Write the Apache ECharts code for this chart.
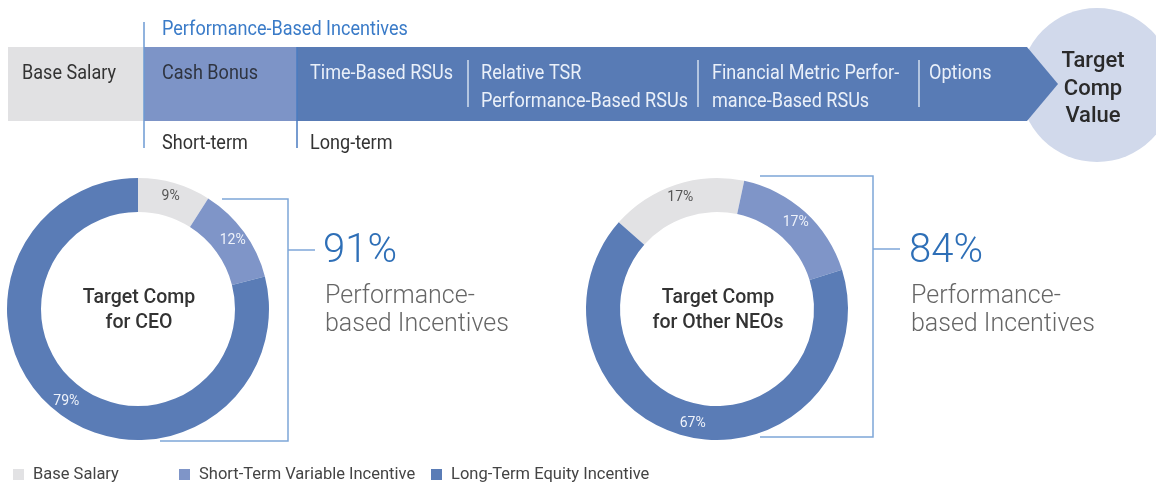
<!DOCTYPE html>
<html>
<head>
<meta charset="utf-8">
<script src="https://cdn.jsdelivr.net/npm/echarts@6/dist/echarts.min.js"></script>
<style>
  html, body { margin: 0; padding: 0; background: #ffffff; }
  #chart { width: 1156px; height: 482px; }
</style>
</head>
<body>
<div id="chart"></div>
<script>
// Pay mix categories and shares of target compensation (percent)
const categories = ['Base Salary', 'Short-Term Variable Incentive', 'Long-Term Equity Incentive'];
const ceoMix = [9, 12, 79];
const neoMix = [17, 17, 67];
const ceoPerformanceShare = 91;
const neoPerformanceShare = 84;

// Text for the compensation flow banner
const donutTitles = ['Target Comp\nfor CEO', 'Target Comp\nfor Other NEOs'];
const bannerItems = ['Base Salary', 'Cash Bonus', 'Time-Based RSUs',
  'Relative TSR\nPerformance-Based RSUs', 'Financial Metric Perfor-\nmance-Based RSUs', 'Options'];
const groupLabels = ['Performance-Based Incentives', 'Short-term', 'Long-term'];
const endLabel = 'Target\nComp\nValue';
const perfCaption = 'Performance-\nbased Incentives';

const SANS = 'Roboto, "Noto Sans", sans-serif';
const COLORS = ['#e2e2e4', '#7f95c8', '#5a7cb6'];
const BRACKET = '#7ea6d8';
const NARROW_SCALE = 0.86;   // horizontal squeeze for the condensed banner lettering

const chart = echarts.init(document.getElementById('chart'), null, { renderer: 'canvas' });

function pieSeries(name, center, startAngle, values) {
  return {
    name: name,
    type: 'pie',
    center: center,
    radius: [97, 131],
    startAngle: startAngle,
    clockwise: true,
    avoidLabelOverlap: false,
    silent: true,
    animation: false,
    itemStyle: { borderWidth: 0 },
    label: {
      show: true,
      position: 'inside',
      formatter: '{c}%',
      fontFamily: SANS,
      fontSize: 14,
      color: '#eef2fa'
    },
    labelLine: { show: false },
    emphasis: { disabled: true },
    data: categories.map((c, i) => ({
      name: c,
      value: values[i],
      label: i === 0 ? { color: '#555555' } : {}
    }))
  };
}

function txt(text, x, y, font, fill, extra, scaleX) {
  return {
    type: 'text', x: x, y: y, silent: true,
    scaleX: scaleX || 1,
    style: Object.assign({ text: text, font: font, fill: fill, align: 'left', verticalAlign: 'top' }, extra || {})
  };
}

function line(points, stroke, width) {
  return {
    type: 'polyline', silent: true,
    shape: { points: points },
    style: { stroke: stroke, lineWidth: width || 1.5, fill: null }
  };
}

const bannerFont = '21px ' + SANS;
const ML = { lineHeight: 28 };
const graphics = [
  // end circle sits behind the arrow tip
  { type: 'circle', shape: { cx: 1097, cy: 85, r: 77 }, style: { fill: '#d1d9eb' }, silent: true },
  { type: 'rect', shape: { x: 8, y: 47, width: 136, height: 74 }, style: { fill: '#e1e1e3' }, silent: true },
  { type: 'rect', shape: { x: 144, y: 47, width: 153, height: 74 }, style: { fill: '#7d94c7' }, silent: true },
  { type: 'polygon', shape: { points: [[297, 47], [1027, 47], [1058, 84], [1027, 121], [297, 121]] },
    style: { fill: '#587bb5' }, silent: true },
  line([[144, 22], [144, 148]], '#6c9ad3', 1.5),
  line([[297, 47], [297, 148]], '#4a7bc0', 1.5),
  line([[468, 60], [468, 107]], 'rgba(232,238,248,0.85)', 1.5),
  line([[698, 60], [698, 107]], 'rgba(232,238,248,0.85)', 1.5),
  line([[919, 60], [919, 107]], 'rgba(232,238,248,0.85)', 1.5),

  txt(bannerItems[0], 22, 60, bannerFont, '#333333', ML, NARROW_SCALE),
  txt(bannerItems[1], 162, 60, bannerFont, '#2f3440', ML, NARROW_SCALE),
  txt(bannerItems[2], 310, 60, bannerFont, '#eaf0f9', ML, NARROW_SCALE),
  txt(bannerItems[3], 481, 60, bannerFont, '#eaf0f9', ML, NARROW_SCALE),
  txt(bannerItems[4], 712, 60, bannerFont, '#eaf0f9', ML, NARROW_SCALE),
  txt(bannerItems[5], 929, 60, bannerFont, '#eaf0f9', ML, NARROW_SCALE),
  txt(groupLabels[0], 162, 16, bannerFont, '#3a7bc8', ML, NARROW_SCALE),
  txt(groupLabels[1], 162, 130, bannerFont, '#333333', ML, NARROW_SCALE),
  txt(groupLabels[2], 310, 130, bannerFont, '#333333', ML, NARROW_SCALE),
  txt(endLabel, 1093, 48, '500 22px ' + SANS, '#2a2a2a', { align: 'center', lineHeight: 27.5 }),

  // donut centre titles
  txt(donutTitles[0], 139, 286, '500 19.5px ' + SANS, '#333333', { align: 'center', lineHeight: 25 }),
  txt(donutTitles[1], 718, 286, '500 19.5px ' + SANS, '#333333', { align: 'center', lineHeight: 25 }),

  // brackets around the performance-based slices
  line([[222, 199], [288, 199], [288, 441], [160, 441]], BRACKET, 1.5),
  line([[288, 250], [315, 250]], BRACKET, 1.5),
  line([[760, 176], [873, 176], [873, 437], [760, 437]], BRACKET, 1.5),
  line([[873, 249], [900, 249]], BRACKET, 1.5),

  txt(ceoPerformanceShare + '%', 323, 232, '300 40px ' + SANS, '#2e6fb7'),
  txt(perfCaption, 325, 283, '300 25px ' + SANS, '#666666', ML),
  txt(neoPerformanceShare + '%', 909, 232, '300 40px ' + SANS, '#2e6fb7'),
  txt(perfCaption, 911, 283, '300 25px ' + SANS, '#666666', ML)
];

const legendBase = {
  top: 461,
  orient: 'horizontal',
  icon: 'rect',
  itemWidth: 11,
  itemHeight: 11,
  selectedMode: false,
  textStyle: { fontFamily: SANS, fontSize: 16.5, color: '#444444', padding: [0, 0, 0, 4] }
};

chart.setOption({
  animation: false,
  color: COLORS,
  legend: [
    Object.assign({}, legendBase, { left: 8, data: [categories[0]] }),
    Object.assign({}, legendBase, { left: 174, data: [categories[1]] }),
    Object.assign({}, legendBase, { left: 426, data: [categories[2]] })
  ],
  series: [
    pieSeries('CEO', [138, 309], 90, ceoMix),
    pieSeries('Other NEOs', [717, 309], 138.6, neoMix)
  ],
  graphic: { elements: graphics }
});
</script>
</body>
</html>
